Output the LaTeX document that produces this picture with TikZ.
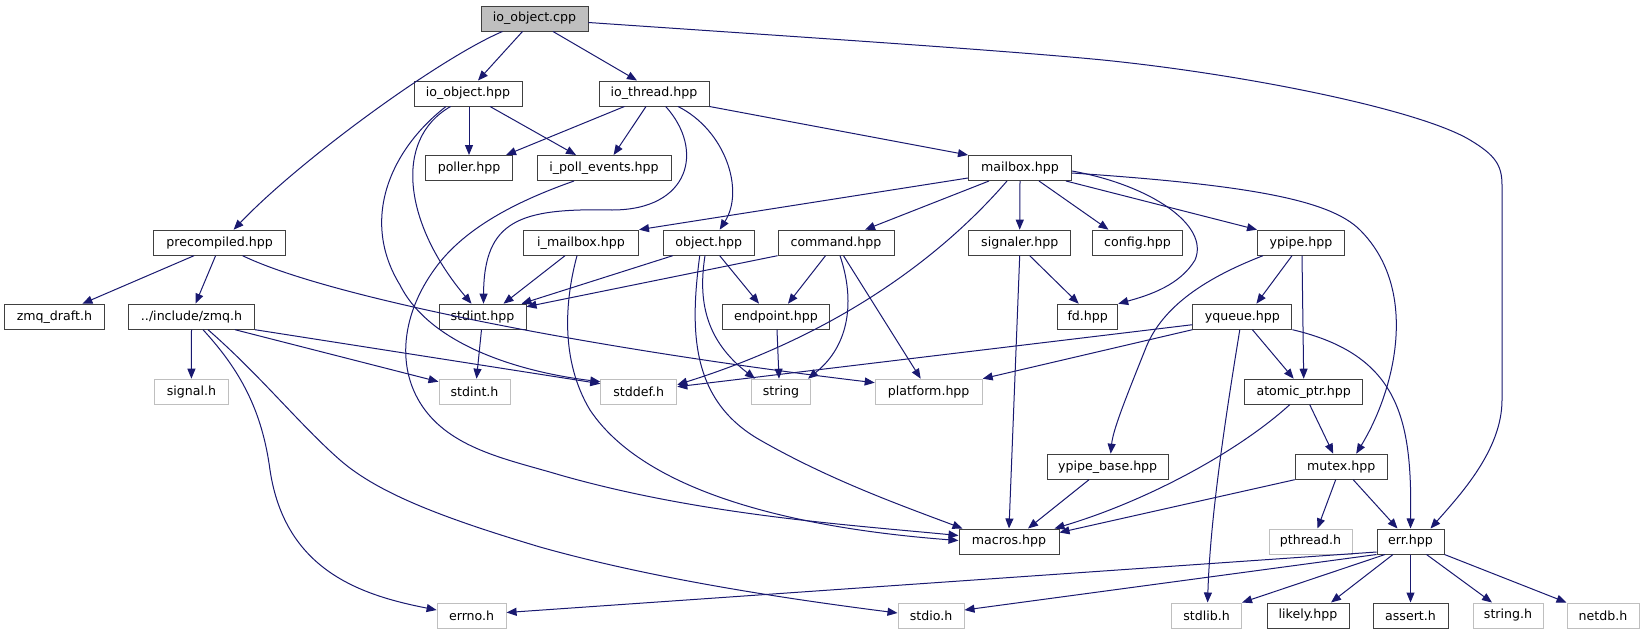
\documentclass[tikz,border=0pt]{standalone}
\usepackage{fontspec}
\setmainfont{DejaVu Sans}
\usetikzlibrary{arrows.meta}
\definecolor{edgec}{HTML}{191970}
\definecolor{bord}{HTML}{404040}
\definecolor{missb}{HTML}{BFBFBF}
\definecolor{rootf}{HTML}{BFBFBF}
\newcommand{\dxfont}{\fontsize{12.6}{15}\selectfont}
\tikzset{
  box/.style={draw=bord, fill=white, line width=1pt, rectangle, minimum height=25pt, inner sep=0pt, font=\dxfont, text=black},
  missbox/.style={box, draw=missb},
  rootbox/.style={box, fill=rootf},
  e/.style={draw=edgec, line width=1pt, -{Triangle[length=10pt,width=8pt]}, fill=none},
}
\begin{document}
\begin{tikzpicture}[x=1pt,y=-1pt]
\useasboundingbox (0,0) rectangle (1643,635);
\fill[white] (0,0) rectangle (1643,635);
% nodes
\node[rootbox, minimum width=107pt] (cpp) at (534.5,18.5) {io\_object.cpp};
\node[box, minimum width=108pt] (ioh) at (468,93.5) {io\_object.hpp};
\node[box, minimum width=110pt] (ioth) at (654,93.5) {io\_thread.hpp};
\node[box, minimum width=87pt] (poller) at (469,168) {poller.hpp};
\node[box, minimum width=134pt] (ipe) at (604,168) {i\_poll\_events.hpp};
\node[box, minimum width=103pt] (mailbox) at (1020,168) {mailbox.hpp};
\node[box, minimum width=132pt] (pre) at (219.6,242.7) {precompiled.hpp};
\node[box, minimum width=115pt] (imb) at (581,242.7) {i\_mailbox.hpp};
\node[box, minimum width=91pt] (obj) at (708.7,242.7) {object.hpp};
\node[box, minimum width=116pt] (cmd) at (836,242.7) {command.hpp};
\node[box, minimum width=102pt] (sig) at (1019.7,242.7) {signaler.hpp};
\node[box, minimum width=90pt] (cfg) at (1137.5,242.7) {config.hpp};
\node[box, minimum width=87pt] (ypipe) at (1301,242.7) {ypipe.hpp};
\node[box, minimum width=100pt] (draft) at (54.4,316.7) {zmq\_draft.h};
\node[box, minimum width=126pt] (zmq) at (191.5,316.7) {../include/zmq.h};
\node[box, minimum width=87pt] (sthpp) at (482.5,316.7) {stdint.hpp};
\node[box, minimum width=107pt] (endp) at (776,316.7) {endpoint.hpp};
\node[box, minimum width=60pt] (fd) at (1087.7,316.7) {fd.hpp};
\node[box, minimum width=99pt] (yq) at (1242.4,316.7) {yqueue.hpp};
\node[missbox, minimum width=74pt] (sigh) at (191.4,391.7) {signal.h};
\node[missbox, minimum width=71pt] (sth) at (474.5,391.7) {stdint.h};
\node[missbox, minimum width=76pt] (stddef) at (638.8,391.7) {stddef.h};
\node[missbox, minimum width=59pt] (string) at (781,391.7) {string};
\node[missbox, minimum width=107pt] (plat) at (928.7,391.7) {platform.hpp};
\node[box, minimum width=118.5pt] (atom) at (1303.7,391.7) {atomic\_ptr.hpp};
\node[box, minimum width=121pt] (ypb) at (1107.7,466.7) {ypipe\_base.hpp};
\node[box, minimum width=92pt] (mutex) at (1341.2,466.7) {mutex.hpp};
\node[box, minimum width=100pt] (macros) at (1009,541.5) {macros.hpp};
\node[missbox, minimum width=83pt] (pth) at (1310.5,541.5) {pthread.h};
\node[box, minimum width=67pt] (err) at (1410.5,541.5) {err.hpp};
\node[missbox, minimum width=69pt] (errno) at (471.6,615.5) {errno.h};
\node[missbox, minimum width=66pt] (stdio) at (931,615.5) {stdio.h};
\node[missbox, minimum width=70pt] (stdlib) at (1206.6,615.5) {stdlib.h};
\node[box, minimum width=82pt] (likely) at (1308,615.5) {likely.hpp};
\node[box, minimum width=75pt] (assert) at (1410.5,615.5) {assert.h};
\node[missbox, minimum width=70pt] (strh) at (1508,615.5) {string.h};
\node[missbox, minimum width=72pt] (netdb) at (1603,615.5) {netdb.h};
% edges from io_object.cpp
\draw[e] ([xshift=-32]cpp.south) .. controls (440,58) and (300,160) .. ([xshift=14]pre.north);
\draw[e] ([xshift=-12]cpp.south) -- ([xshift=10]ioh.north);
\draw[e] ([xshift=18.5]cpp.south) -- ([xshift=-17]ioth.north);
\draw[e] ([yshift=-4]cpp.east) .. controls (800,37) and (1000,50) .. (1103,60) .. controls (1250,75) and (1420,110) .. (1470,140) .. controls (1495,155) and (1502,165) .. (1502,185) -- (1502,400) .. controls (1502,450) and (1460,495) .. ([xshift=20]err.north);
% io_object.hpp
\draw[e] ([xshift=1]ioh.south) -- (poller.north);
\draw[e] ([xshift=22]ioh.south) -- ([xshift=-28]ipe.north);
\draw[e] ([xshift=-17.4]ioh.south) .. controls (392,140) and (405,225) .. ([xshift=-11]sthpp.north);
\draw[e] ([xshift=-22]ioh.south) .. controls (390,150) and (360,220) .. (400,285) .. controls (430,345) and (520,372) .. ([yshift=10]stddef.west);
% io_thread.hpp
\draw[e] ([xshift=-29.6]ioth.south) -- ([xshift=37]poller.north);
\draw[e] ([xshift=-8]ioth.south) -- ([xshift=9.6]ipe.north);
\draw[e] (ioth.south east) -- (mailbox.north west);
\draw[e] ([xshift=11.7]ioth.south) .. controls (705,150) and (690,210) .. (612,210) .. controls (520,208) and (484,220) .. ([xshift=1]sthpp.north);
\draw[e] ([xshift=24]ioth.south) .. controls (725,130) and (745,190) .. ([xshift=11]obj.north);
% precompiled.hpp
\draw[e] ([xshift=-25.6]pre.south) -- ([xshift=28]draft.north);
\draw[e] ([xshift=-4]pre.south) -- ([xshift=4]zmq.north);
\draw[e] ([xshift=23]pre.south) .. controls (330,298) and (600,350) .. ([yshift=9]plat.west);
% zmq.h
\draw[e] (zmq.south) -- (sigh.north);
\draw[e] ([xshift=43.5]zmq.south) -- ([yshift=10]sth.west);
\draw[e] (zmq.south east) -- ([yshift=8]stddef.west);
\draw[e] ([xshift=11.5]zmq.south) .. controls (240,370) and (262,410) .. (270,470) .. controls (285,570) and (360,595) .. ([yshift=5.5]errno.west);
\draw[e] ([xshift=16.5]zmq.south) .. controls (260,375) and (300,425) .. (340,460) .. controls (380,495) and (450,520) .. (540,547) .. controls (650,578) and (780,598) .. ([yshift=2.5]stdio.west);
% stdint.hpp
\draw[e] ([xshift=-1]sthpp.south) -- ([xshift=2]sth.north);
% i_poll_events.hpp
\draw[e] ([xshift=-30]ipe.south) .. controls (520,200) and (470,225) .. (440,262) .. controls (400,312) and (395,370) .. (425,410) .. controls (455,450) and (510,460) .. (560,475) .. controls (700,515) and (850,525) .. ([yshift=6]macros.west);
% mailbox.hpp
\draw[e] ([yshift=-10]mailbox.west) -- (imb.north east);
\draw[e] ([xshift=-31]mailbox.south) -- ([xshift=29]cmd.north);
\draw[e] ([xshift=-13]mailbox.south) .. controls (930,270) and (820,340) .. ([yshift=7]stddef.east);
\draw[e] (mailbox.south) -- (sig.north);
\draw[e] ([xshift=19]mailbox.south) -- ([xshift=-29]cfg.north);
\draw[e] ([xshift=46]mailbox.south) -- (ypipe.north west);
\draw[e] ([yshift=-3]mailbox.east) .. controls (1150,185) and (1210,225) .. (1195,260) .. controls (1180,285) and (1150,295) .. (fd.north east);
\draw[e] ([yshift=-5]mailbox.east) .. controls (1250,185) and (1330,200) .. (1360,230) .. controls (1420,290) and (1395,390) .. ([xshift=15]mutex.north);
% i_mailbox.hpp
\draw[e] ([xshift=-16]imb.south) -- ([xshift=21]sthpp.north);
\draw[e] ([xshift=-4]imb.south) .. controls (565,300) and (560,360) .. (590,410) .. controls (650,500) and (820,530) .. ([yshift=1]macros.west);
% object.hpp
\draw[e] ([xshift=-36]obj.south) -- ([xshift=39]sthpp.north);
\draw[e] ([xshift=11]obj.south) -- ([xshift=-17]endp.north);
\draw[e] ([xshift=-3.7]obj.south) .. controls (698,300) and (705,340) .. ([xshift=4]string.north west);
\draw[e] ([xshift=-9]obj.south) .. controls (690,330) and (690,400) .. (760,440) .. controls (830,480) and (900,505) .. ([xshift=4]macros.north west);
% command.hpp
\draw[e] (cmd.south west) -- ([yshift=10]sthpp.east);
\draw[e] ([xshift=-10.5]cmd.south) -- ([xshift=12]endp.north);
\draw[e] ([xshift=4]cmd.south) .. controls (855,300) and (850,345) .. ([xshift=-3]string.north east);
\draw[e] ([xshift=7.5]cmd.south) -- ([xshift=-8]plat.north);
% endpoint.hpp
\draw[e] ([xshift=1]endp.south) -- ([xshift=-2]string.north);
% signaler.hpp
\draw[e] ([xshift=10]sig.south) -- ([xshift=-9]fd.north);
\draw[e] (sig.south) -- (macros.north);
% ypipe.hpp
\draw[e] ([xshift=-9]ypipe.south) -- ([xshift=14]yq.north);
\draw[e] ([xshift=1]ypipe.south) -- (atom.north);
\draw[e] ([xshift=-38]ypipe.south) .. controls (1200,280) and (1160,310) .. (1145,350) .. controls (1125,400) and (1113,430) .. ([xshift=3]ypb.north);
% yqueue.hpp
\draw[e] ([yshift=-8]yq.west) -- ([yshift=5]stddef.east);
\draw[e] (yq.south west) -- (plat.north east);
\draw[e] ([xshift=-2.6]yq.south) .. controls (1225,420) and (1210,520) .. ([xshift=1]stdlib.north);
\draw[e] ([xshift=10]yq.south) -- ([xshift=-10]atom.north);
\draw[e] (yq.south east) .. controls (1400,355) and (1412,420) .. (err.north);
% atomic_ptr.hpp
\draw[e] ([xshift=6]atom.south) -- ([xshift=-8]mutex.north);
\draw[e] ([xshift=-14]atom.south) .. controls (1240,450) and (1150,500) .. ([xshift=-5]macros.north east);
% ypipe_base.hpp
\draw[e] ([xshift=-18.7]ypb.south) -- ([xshift=19]macros.north);
% mutex.hpp
\draw[e] (mutex.south west) -- ([yshift=9]macros.east);
\draw[e] ([xshift=-5.5]mutex.south) -- ([xshift=7]pth.north);
\draw[e] ([xshift=12]mutex.south) -- ([xshift=-13]err.north);
% err.hpp
\draw[e] ([yshift=-10.5]err.west) -- ([yshift=3]errno.east);
\draw[e] (err.south west) -- ([yshift=5.5]stdio.east);
\draw[e] ([xshift=-25.5]err.south) -- (stdlib.north east);
\draw[e] ([xshift=-17.5]err.south) -- ([xshift=23]likely.north);
\draw[e] (err.south) -- (assert.north);
\draw[e] ([xshift=16]err.south) -- ([xshift=-16]strh.north);
\draw[e] (err.south east) -- (netdb.north west);
\end{tikzpicture}
\end{document}
